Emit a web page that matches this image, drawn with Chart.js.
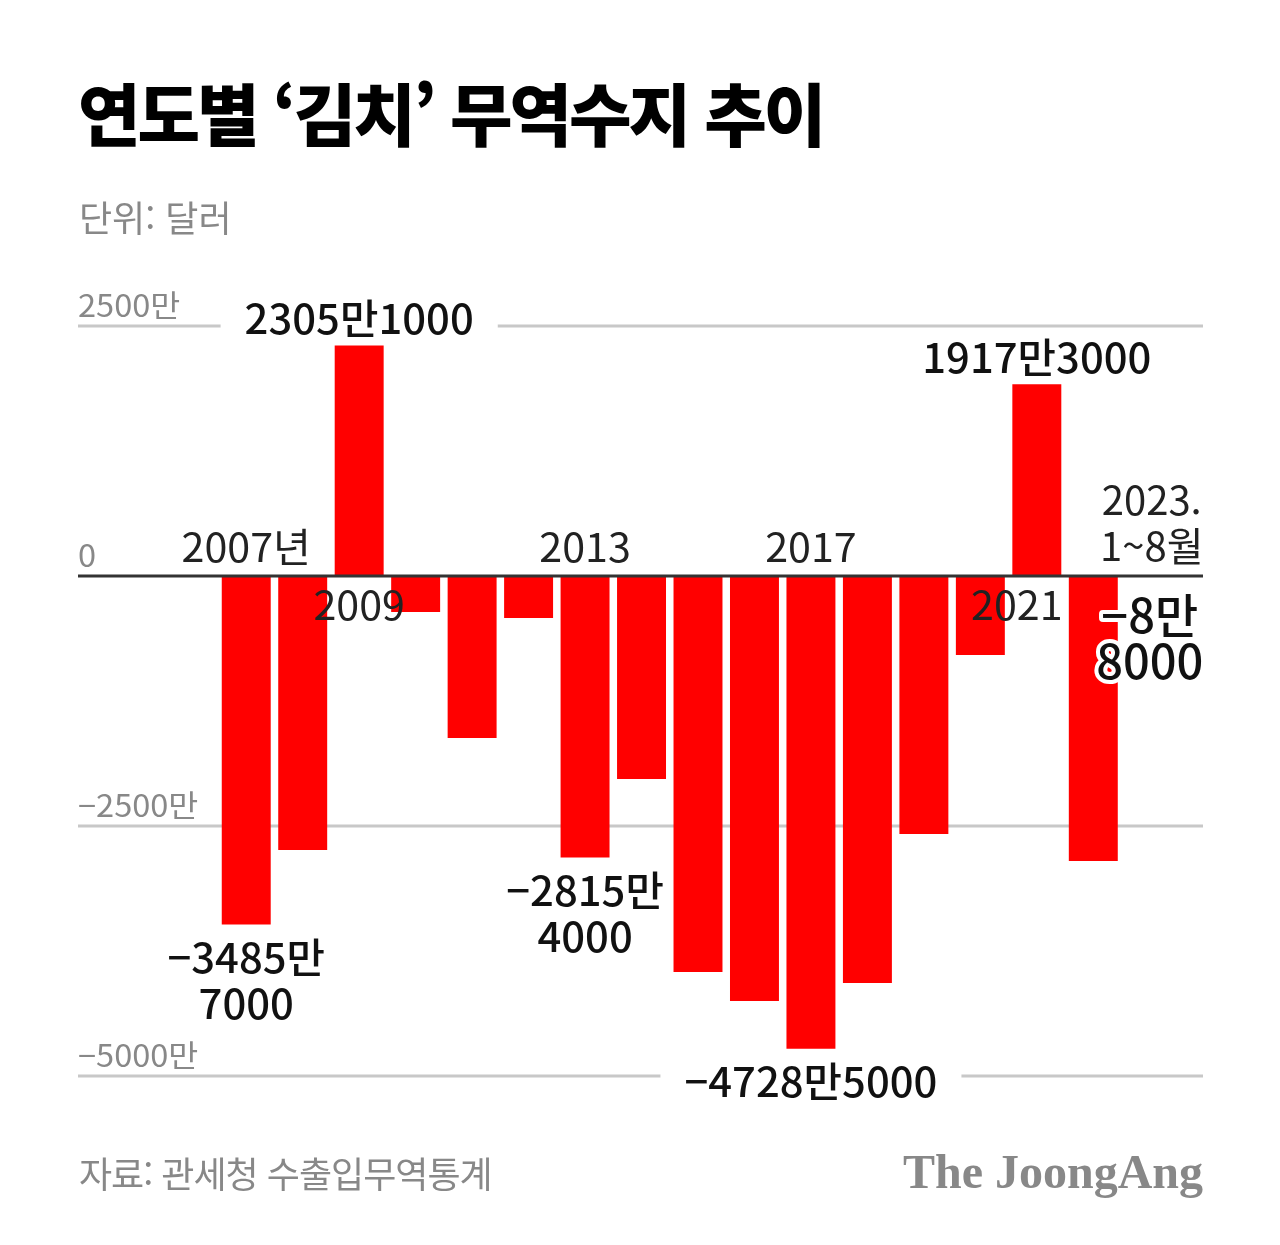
<!DOCTYPE html>
<html lang="ko">
<head>
<meta charset="utf-8">
<script src="https://cdn.jsdelivr.net/npm/chart.js@4"></script>
<style>
  body { margin: 0; background: #fff; font-family: "Noto Sans CJK KR", sans-serif; }
  #wrap { position: relative; width: 1280px; height: 1245px; overflow: hidden; }
  #c { position: absolute; left: 0; top: 0; }
  .title { position: absolute; left: 78px; top: 62px; font-size: 68px; font-weight: 900; letter-spacing: -3px; color: #000; }
  .unit { position: absolute; left: 79px; top: 190px; font-size: 36px; color: #888; letter-spacing: 0px; }
  .src { position: absolute; left: 79px; top: 1146px; font-size: 36px; color: #888; letter-spacing: -1px; }
  .logo { position: absolute; right: 77px; top: 1144px; font-family: "Liberation Serif", serif; font-weight: bold; font-size: 48px; color: #888; letter-spacing: 0px; }
</style>
</head>
<body>
<div id="wrap">
  <canvas id="c" width="1280" height="1245"></canvas>
  <div class="title">연도별 ‘김치’ 무역수지 추이</div>
  <div class="unit">단위: 달러</div>
  <div class="src">자료: 관세청 수출입무역통계</div>
  <div class="logo">The JoongAng</div>
</div>
<script>
// 무역수지 (단위: 만 달러)
const years = ["2007", "2008", "2009", "2010", "2011", "2012", "2013", "2014", "2015",
               "2016", "2017", "2018", "2019", "2020", "2021", "2022", "2023"];
const balance = [-3485.7, -2740, 2305.1, -360, -1620, -420, -2815.4, -2030, -3960,
                 -4250, -4728.5, -4070, -2580, -790, 1917.3, -2850, -8.8];

// 표시할 연도 라벨 (빈 배열은 생략)
const yearLabels = [["2007년"], [], ["2009"], [], [], [], ["2013"], [], [], [],
                    ["2017"], [], [], [], ["2021"], [], ["2023.", "1~8월"]];

// 값 라벨
const valueLabels = [["−3485만", "7000"], null, ["2305만1000"], null, null, null,
                     ["−2815만", "4000"], null, null, null, ["−4728만5000"], null,
                     null, null, ["1917만3000"], null, ["−8만", "8000"]];

const yTicks = [2500, 0, -2500, -5000];
const tickText = ["2500만", "0", "−2500만", "−5000만"];

const GRID_LEFT = 78, GRID_RIGHT = 1203;

function drawText(ctx, text, x, y, size, weight, color, sx, align) {
  ctx.save();
  ctx.font = weight + " " + size + "px 'Noto Sans CJK KR'";
  ctx.textBaseline = "middle";
  ctx.textAlign = "left";
  const w = ctx.measureText(text).width * sx;
  let left = x - w / 2;
  if (align === "left") left = x;
  if (align === "right") left = x - w;
  ctx.translate(left, y);
  ctx.scale(sx, 1);
  ctx.fillStyle = color;
  ctx.fillText(text, 0, 0);
  ctx.restore();
  return { left: left, width: w };
}

const gridPlugin = {
  id: "grid",
  beforeDatasetsDraw(chart) {
    const ctx = chart.ctx, y = chart.scales.y;
    ctx.save();
    ctx.strokeStyle = "#c8c8c8";
    ctx.lineWidth = 3;
    yTicks.forEach((v, i) => {
      const py = y.getPixelForValue(v);
      if (v !== 0) {
        ctx.beginPath();
        ctx.moveTo(GRID_LEFT, py);
        ctx.lineTo(GRID_RIGHT, py);
        ctx.stroke();
      }
      drawText(ctx, tickText[i], GRID_LEFT, py - 21, 31, 400, "#888", 1.05, "left");
    });
    ctx.restore();
  },
  afterDatasetsDraw(chart) {
    const ctx = chart.ctx, y = chart.scales.y;
    const meta = chart.getDatasetMeta(0);
    const zero = y.getPixelForValue(0);
    ctx.save();
    ctx.strokeStyle = "#333";
    ctx.lineWidth = 3;
    ctx.beginPath();
    ctx.moveTo(GRID_LEFT, zero);
    ctx.lineTo(GRID_RIGHT, zero);
    ctx.stroke();

    // 연도 라벨
    yearLabels.forEach((lines, i) => {
      if (!lines.length) return;
      let cx = meta.data[i].x;
      if (i === 14) cx -= 20;
      if (lines.length === 2) {
        drawText(ctx, lines[0], cx + 2, zero - 76, 40, 400, "#222", 1.0);
        drawText(ctx, lines[1], cx + 2, zero - 30, 40, 400, "#222", 1.0);
      } else {
        const py = balance[i] < 0 ? zero - 29 : zero + 29;
        drawText(ctx, lines[0], cx, py, 40, 400, "#222", 1.03);
      }
    });

    // 값 라벨
    valueLabels.forEach((lines, i) => {
      if (!lines) return;
      const bar = meta.data[i];
      const big = i === valueLabels.length - 1;
      const size = big ? 47 : 41;
      const sx = big ? 1.0 : 1.02;
      const lh = 46;
      let py = balance[i] >= 0 ? bar.y - 27 : bar.y + (big ? 38 : 33);
      lines.forEach((t, k) => {
        ctx.font = "500 " + size + "px 'Noto Sans CJK KR'";
        const w = ctx.measureText(t).width * sx;
        if (big) {
          ctx.save();
          ctx.translate(bar.x - w / 2, py + k * lh);
          ctx.scale(sx, 1);
          ctx.textBaseline = "middle";
          ctx.lineWidth = 8;
          ctx.lineJoin = "round";
          ctx.strokeStyle = "#fff";
          ctx.strokeText(t, 0, 0);
          ctx.restore();
        } else if (lines.length === 1) {
          // 격자선 끊기
          ctx.fillStyle = "#fff";
          ctx.fillRect(bar.x - w / 2 - 24, py + k * lh - 20, w + 48, 40);
        }
        drawText(ctx, t, bar.x, py + k * lh, size, 500, "#111", sx);
      });
    });
    ctx.restore();
  }
};

new Chart(document.getElementById("c"), {
  type: "bar",
  data: {
    labels: years,
    datasets: [{
      data: balance,
      backgroundColor: "#ff0000",
      borderWidth: 0,
      barPercentage: 0.867,
      categoryPercentage: 1
    }]
  },
  options: {
    responsive: false,
    animation: false,
    devicePixelRatio: 1,
    layout: { padding: { left: 218, right: 102, top: 326, bottom: 169 } },
    scales: {
      x: { display: false, offset: true },
      y: { display: false, min: -5000, max: 2500 }
    },
    plugins: { legend: { display: false }, tooltip: { enabled: false } }
  },
  plugins: [gridPlugin]
});
</script>
</body>
</html>
